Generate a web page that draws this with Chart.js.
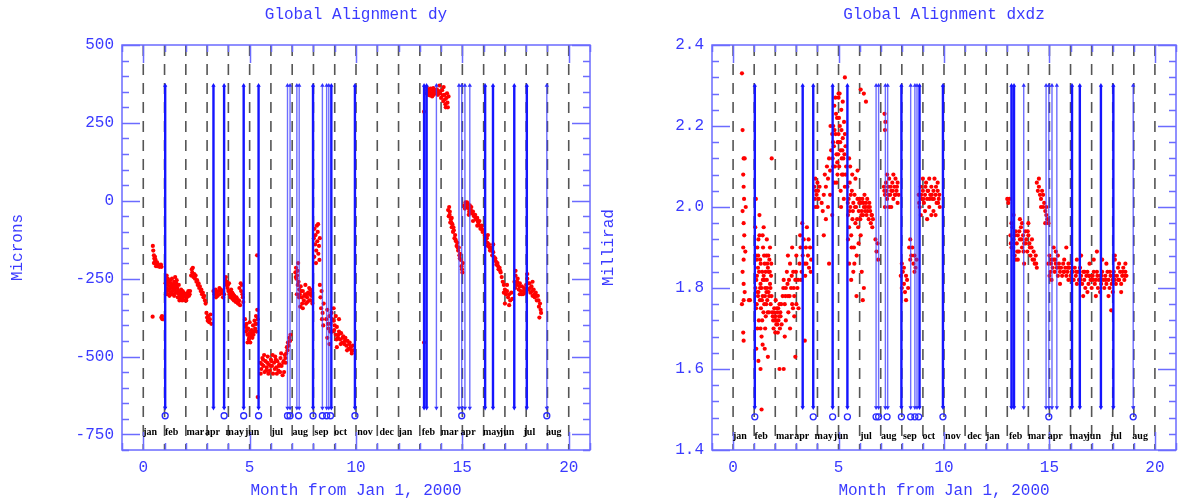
<!DOCTYPE html>
<html>
<head>
<meta charset="utf-8">
<script src="https://cdn.jsdelivr.net/npm/chart.js@4/dist/chart.umd.min.js"></script>
<style>
  html, body { margin: 0; padding: 0; background: #fff; }
  .panel { position: absolute; top: 0; height: 503px; }
  #left { left: 0; width: 600px; }
  #right { left: 595px; width: 592px; }
</style>
</head>
<body>
<div class="panel" id="left"><canvas id="dyChart"></canvas></div>
<div class="panel" id="right"><canvas id="dxdzChart"></canvas></div>
<script>
// month boundaries (dashed) and the calendar labels under them
const monthStarts = [0,1,2,3,4,5,6,7,8,9,10,11,12,13,14,15,16,17,18,19,20];
const monthNames = ["jan","feb","mar","apr","may","jun","jul","aug","sep","oct","nov","dec",
                    "jan","feb","mar","apr","may","jun","jul","aug"];
const monthLabelPos = [0.32,1.33,2.45,3.25,4.3,5.12,6.3,7.38,8.38,9.28,10.42,11.44,
                       12.32,13.4,14.4,15.27,16.4,17.1,18.15,19.3];

// blue event markers
const strongEvents = [1.03,3.3,3.8,4.72,5.42,7.98,8.84,9.95,13.2,13.32,16.07,16.44,17.44,18.03];
const faintEvents = [6.78,6.9,7.22,7.33,8.42,8.62,8.72,13.78,14.84,14.97,15.12,15.35,18.97];
const ringMonths = [1.03,3.8,4.72,5.42,6.78,6.9,7.3,7.98,8.42,8.62,8.8,9.95,14.97,18.97];

// Global Alignment dy [month, microns]
const dyPoints = [
  [0.45,-145],[0.47,-160],[0.5,-175],[0.52,-185],[0.55,-195],[0.58,-190],[0.6,-200],[0.62,-205],
  [0.65,-198],[0.68,-210],[0.7,-205],[0.73,-208],[0.76,-212],[0.8,-210],[0.83,-205],[0.86,-212],
  [0.5,-200],[0.55,-180],[0.6,-210],[0.44,-372],[0.85,-375],[0.88,-370],[0.9,-380],
  [1.05,-265],[1.08,-280],[1.1,-255],[1.12,-290],[1.15,-270],[1.18,-300],[1.2,-260],[1.22,-285],
  [1.25,-275],[1.28,-295],[1.3,-265],[1.33,-280],[1.35,-250],[1.38,-290],[1.4,-270],[1.42,-300],
  [1.45,-260],[1.48,-285],[1.5,-245],[1.52,-275],[1.55,-265],[1.58,-295],[1.6,-280],[1.62,-310],
  [1.65,-290],[1.68,-300],[1.7,-320],[1.72,-295],[1.75,-305],[1.78,-285],[1.8,-315],[1.82,-300],
  [1.85,-290],[1.88,-310],[1.9,-295],[1.93,-305],[1.96,-320],[2.0,-300],[2.05,-310],[2.1,-295],
  [2.15,-305],[2.2,-290],[1.1,-240],[1.3,-300],[1.45,-305],[1.15,-250],
  [1.07,-300],[1.13,-260],[1.17,-285],[1.23,-305],[1.27,-255],[1.33,-300],[1.37,-270],[1.43,-280],
  [1.47,-265],[1.53,-295],[1.57,-255],[1.63,-290],[1.67,-270],[1.73,-310],[1.77,-300],[1.83,-320],
  [1.87,-295],[1.95,-300],[2.02,-320],[2.08,-305],[2.12,-290],[2.18,-300],
  [2.25,-240],[2.28,-220],[2.3,-230],[2.33,-215],[2.36,-245],[2.4,-235],[2.43,-250],[2.46,-240],
  [2.5,-260],[2.53,-255],[2.56,-270],[2.6,-265],[2.63,-280],[2.66,-275],[2.7,-290],[2.73,-285],
  [2.76,-300],[2.8,-295],[2.83,-310],[2.86,-305],[2.9,-320],[2.93,-330],
  [2.97,-360],[3.0,-375],[3.03,-385],[3.06,-370],[3.1,-390],[3.13,-380],[3.16,-365],[3.2,-395],
  [3.3,-290],[3.35,-300],[3.4,-285],[3.45,-295],[3.5,-305],[3.55,-290],[3.6,-300],[3.65,-285],
  [3.7,-295],[3.75,-310],[3.8,-300],[3.42,-310],[3.58,-280],[3.72,-290],
  [3.85,-255],[3.88,-245],[3.9,-270],[3.93,-260],[3.96,-280],[4.0,-290],[4.03,-265],[4.06,-300],
  [4.1,-310],[4.13,-285],[4.16,-305],[4.2,-315],[4.23,-300],[4.26,-320],[4.3,-310],[4.35,-325],
  [4.4,-315],[4.45,-330],[4.5,-320],[4.55,-335],[4.6,-290],[4.63,-270],[4.66,-300],[4.7,-325],
  [4.52,-280],[4.58,-265],[3.87,-265],[3.98,-270],[4.08,-290],[4.18,-295],[4.28,-305],[4.38,-310],
  [4.48,-325],[4.68,-310],
  [4.78,-380],[4.8,-400],[4.83,-420],[4.86,-395],[4.9,-430],[4.93,-410],[4.96,-445],[5.0,-425],
  [5.03,-455],[5.06,-435],[5.1,-415],[5.13,-440],[5.16,-400],[5.2,-420],[5.23,-385],[5.26,-410],
  [5.3,-370],[5.33,-395],[5.36,-350],[5.38,-380],[4.9,-455],[5.0,-390],[5.35,-175],[5.38,-630],
  [4.82,-405],[4.88,-415],[4.98,-440],[5.08,-425],[5.18,-430],[5.28,-395],[5.32,-420],
  [5.5,-520],[5.55,-540],[5.6,-505],[5.65,-530],[5.7,-550],[5.75,-515],[5.8,-535],[5.85,-500],
  [5.9,-525],[5.95,-545],[6.0,-510],[6.05,-530],[6.1,-555],[6.15,-520],[6.2,-500],[6.25,-535],
  [6.3,-515],[6.35,-545],[6.4,-525],[6.45,-505],[6.5,-530],[6.55,-560],[6.6,-515],[6.65,-495],
  [6.7,-520],[5.52,-555],[5.68,-495],[5.88,-555],[6.08,-495],[6.28,-555],[6.48,-490],[6.62,-550],
  [5.58,-525],[5.63,-510],[5.78,-545],[5.83,-520],[5.98,-530],[6.03,-515],[6.18,-540],[6.23,-510],
  [6.38,-530],[6.43,-550],[6.58,-520],[6.68,-505],
  [6.72,-490],[6.75,-470],[6.78,-480],[6.8,-455],[6.83,-465],[6.86,-440],[6.9,-450],[6.92,-430],
  [7.15,-230],[7.18,-215],[7.2,-250],[7.23,-240],[7.26,-270],[7.3,-260],[7.33,-285],[7.36,-300],
  [7.4,-275],[7.45,-310],[7.5,-290],[7.55,-320],[7.6,-300],[7.65,-330],[7.7,-310],[7.75,-295],
  [7.8,-320],[7.85,-285],[7.9,-305],[7.95,-330],[7.38,-340],[7.5,-345],[7.28,-200],[7.22,-300],
  [7.62,-270],[7.8,-280],[7.17,-245],[7.25,-225],[7.32,-310],[7.42,-290],[7.47,-330],[7.57,-305],
  [7.67,-300],[7.72,-325],[7.82,-300],[7.88,-320],[7.93,-295],
  [8.02,-120],[8.05,-90],[8.08,-140],[8.1,-110],[8.13,-160],[8.16,-80],[8.18,-130],[8.2,-100],
  [8.23,-170],[8.26,-145],[8.28,-190],[8.3,-120],[8.04,-180],[8.12,-200],[8.22,-75],
  [8.3,-270],[8.33,-310],[8.36,-345],[8.4,-380],[8.43,-360],[8.46,-400],[8.38,-290],[8.48,-330],
  [8.6,-380],[8.65,-350],[8.7,-410],[8.75,-370],[8.8,-395],[8.85,-360],[8.9,-420],[8.95,-385],
  [9.0,-400],[9.05,-430],[9.1,-405],[9.15,-440],[9.2,-420],[9.25,-445],[9.3,-425],[9.35,-455],
  [9.4,-435],[9.45,-460],[9.5,-440],[9.55,-465],[9.6,-450],[9.65,-475],[9.7,-455],[9.75,-470],
  [9.8,-490],[9.85,-465],[8.65,-440],[8.75,-460],[8.95,-345],[9.05,-370],[9.2,-380],[9.1,-470],
  [8.68,-395],[8.78,-420],[8.88,-380],[8.98,-415],[9.08,-445],[9.18,-430],[9.28,-460],[9.38,-440],
  [9.48,-450],[9.58,-480],[9.68,-460],[9.78,-480],[9.88,-480],
  [13.2,-455],[13.2,286],
  [13.3,345],[13.35,355],[13.4,340],[13.45,350],[13.5,360],[13.55,345],[13.6,355],[13.65,340],
  [13.7,350],[13.75,345],[13.8,358],[13.85,340],[13.9,352],[13.95,345],[14.0,330],[14.05,355],
  [14.1,320],[14.15,340],[14.2,310],[14.25,330],[14.3,315],[14.35,335],[14.12,365],[13.92,370],
  [14.22,300],[14.28,345],[13.32,365],[13.58,335],[13.38,358],[13.48,338],[13.63,362],[13.73,355],
  [13.88,348],[14.08,338],[14.18,325],[14.32,300],
  [14.33,-30],[14.36,-50],[14.4,-45],[14.43,-70],[14.46,-60],[14.5,-85],[14.53,-75],[14.56,-100],
  [14.6,-95],[14.63,-120],[14.66,-110],[14.7,-130],[14.73,-145],[14.76,-135],[14.8,-160],
  [14.83,-150],[14.86,-175],[14.9,-170],[14.93,-190],[14.96,-210],[15.0,-230],[15.02,-200],
  [14.38,-20],[14.5,-55],[14.41,-35],[14.48,-70],[14.58,-85],[14.68,-125],[14.78,-150],
  [14.88,-185],[14.98,-220],
  [15.1,-15],[15.15,-5],[15.2,-20],[15.25,-10],[15.3,-25],[15.35,-15],[15.4,-30],[15.45,-40],
  [15.5,-35],[15.55,-50],[15.6,-45],[15.65,-60],[15.7,-55],[15.75,-70],[15.8,-65],[15.85,-90],
  [15.9,-80],[15.95,-100],[16.0,-95],[15.3,-45],[15.5,-65],[15.7,-80],[15.12,-25],[15.22,-5],
  [15.32,-35],[15.42,-20],[15.52,-45],[15.62,-55],[15.72,-65],[15.82,-80],[15.92,-90],
  [16.05,-110],[16.1,-130],[16.15,-120],[16.2,-145],[16.25,-140],[16.3,-160],[16.35,-150],
  [16.4,-175],[16.45,-165],[16.5,-190],[16.55,-185],[16.6,-205],[16.65,-200],[16.7,-220],
  [16.75,-215],[16.8,-230],[16.2,-110],[16.45,-140],[16.08,-120],[16.18,-135],[16.28,-150],
  [16.38,-160],[16.48,-180],[16.58,-195],[16.68,-210],[16.78,-225],
  [16.85,-245],[16.9,-260],[16.95,-270],[17.0,-285],[17.05,-300],[17.1,-290],[17.15,-310],
  [17.2,-300],[17.25,-320],[17.3,-295],[17.35,-315],[17.0,-330],[17.2,-335],[17.1,-270],[16.95,-295],
  [17.45,-260],[17.5,-240],[17.55,-270],[17.6,-250],[17.65,-285],[17.7,-265],[17.75,-290],
  [17.8,-275],[17.85,-300],[17.9,-280],[17.95,-295],[18.0,-270],[18.05,-250],[18.1,-285],
  [18.15,-265],[18.2,-295],[18.25,-275],[18.3,-305],[18.35,-285],[18.4,-310],[18.45,-295],
  [18.5,-320],[18.55,-305],[18.6,-340],[18.65,-330],[18.7,-360],[18.62,-375],[18.68,-350],
  [17.5,-225],[18.05,-235],[17.7,-300],[18.3,-260],[17.48,-280],[17.58,-260],[17.68,-275],
  [17.78,-300],[17.88,-290],[17.98,-285],[18.08,-265],[18.18,-280],[18.28,-290],[18.38,-300],
  [18.48,-305],[18.58,-320]
];

// Global Alignment dxdz [month, millirad]
const dxdzPoints = [
  [0.42,2.33],[0.45,2.19],[0.5,2.12],[0.55,2.12],[0.48,2.08],[0.5,2.05],[0.52,2.02],[0.45,1.99],
  [0.5,1.96],[0.53,1.93],[0.48,1.9],[0.5,1.87],[0.45,1.84],[0.5,1.81],[0.55,1.79],[0.5,1.77],
  [0.42,1.76],[0.48,1.69],[0.5,1.67],[0.6,2.0],[0.58,1.89],[0.75,1.77],[0.8,1.77],
  [1.05,1.95],[1.08,1.88],[1.1,1.82],[1.12,1.76],[1.15,1.9],[1.18,1.85],[1.2,1.79],[1.22,1.72],
  [1.25,1.93],[1.28,1.87],[1.3,1.81],[1.32,1.75],[1.35,1.68],[1.38,1.84],[1.4,1.78],[1.42,1.9],
  [1.45,1.83],[1.48,1.76],[1.5,1.86],[1.52,1.8],[1.55,1.73],[1.58,1.88],[1.6,1.82],[1.62,1.77],
  [1.65,1.85],[1.68,1.79],[1.7,1.74],[1.72,1.87],[1.75,1.81],[1.78,1.76],[1.8,1.83],[1.82,1.78],
  [1.1,1.65],[1.2,1.62],[1.3,1.6],[1.15,1.7],[1.4,1.66],[1.25,1.98],[1.08,2.02],[1.45,1.95],
  [1.6,1.92],[1.35,1.5],[1.12,1.87],[1.28,1.8],[1.48,1.82],[1.58,1.79],[1.68,1.84],[1.18,1.78],
  [1.38,1.72],[1.52,1.7],[1.62,1.86],[1.75,1.9],[1.83,2.12],[1.65,1.63],
  [1.06,1.8],[1.09,1.75],[1.13,1.83],[1.16,1.79],[1.19,1.88],[1.23,1.84],[1.27,1.77],[1.31,1.86],
  [1.34,1.8],[1.37,1.77],[1.41,1.82],[1.44,1.74],[1.47,1.88],[1.51,1.78],[1.54,1.84],[1.57,1.76],
  [1.61,1.8],[1.64,1.74],[1.67,1.88],[1.71,1.78],[1.74,1.84],[1.77,1.8],[1.81,1.86],[1.2,1.92],
  [1.4,1.93],[1.3,1.7],[1.5,1.65],
  [1.85,1.74],[1.9,1.72],[1.95,1.75],[2.0,1.73],[2.05,1.71],[2.1,1.74],[2.15,1.72],[2.2,1.76],
  [2.25,1.73],[2.3,1.71],[1.92,1.7],[2.02,1.77],[2.12,1.69],[2.22,1.7],[2.08,1.75],[2.18,1.73],
  [2.28,1.76],[1.98,1.72],[1.88,1.73],[1.94,1.74],[2.04,1.72],[2.14,1.75],[2.24,1.74],[2.0,1.69],
  [2.1,1.71],
  [2.35,1.78],[2.4,1.82],[2.45,1.76],[2.5,1.8],[2.55,1.84],[2.6,1.78],[2.65,1.82],[2.7,1.86],
  [2.75,1.8],[2.8,1.76],[2.85,1.84],[2.9,1.78],[2.95,1.82],[3.0,1.88],[3.05,1.8],[3.1,1.75],
  [2.5,1.72],[2.7,1.7],[2.9,1.73],[2.6,1.88],[2.8,1.9],[3.0,1.76],[2.45,1.68],[2.95,1.63],
  [2.4,1.6],[2.2,1.6],[2.38,1.8],[2.48,1.78],[2.58,1.81],[2.68,1.78],[2.78,1.83],[2.88,1.8],
  [2.98,1.84],[3.08,1.82],[2.62,1.74],[2.84,1.75],
  [3.15,1.86],[3.2,1.9],[3.25,1.84],[3.3,1.88],[3.35,1.92],[3.4,1.86],[3.45,1.9],[3.5,1.95],
  [3.55,1.88],[3.6,1.85],[3.65,1.9],[3.7,1.87],[3.18,1.93],[3.28,1.96],[3.42,1.83],[3.58,1.92],
  [3.22,1.82],[3.48,1.86],[3.68,1.84],[3.4,1.67],
  [3.85,2.05],[3.88,2.02],[3.9,2.07],[3.93,2.04],[3.96,2.03],[4.0,2.06],[4.03,2.04],[4.06,2.02],
  [4.1,2.05],[3.9,2.0],[4.0,2.0],
  [4.2,2.01],[4.25,1.99],[4.3,2.03],[4.35,2.08],[4.4,2.05],[4.45,2.1],[4.5,2.07],[4.55,2.12],
  [4.6,2.09],[4.65,2.14],[4.4,1.97],[4.5,2.0],[4.6,2.03],[4.7,2.18],[4.62,2.2],[4.3,1.93],
  [4.55,1.86],[4.7,1.98],
  [4.72,2.12],[4.75,2.2],[4.78,2.15],[4.8,2.25],[4.83,2.1],[4.86,2.18],[4.9,2.13],[4.93,2.22],
  [4.96,2.16],[5.0,2.27],[5.03,2.1],[5.06,2.2],[5.1,2.14],[5.13,2.24],[5.16,2.08],[5.2,2.17],
  [5.23,2.12],[5.26,2.21],[5.3,2.05],[5.33,2.15],[5.36,2.1],[4.8,2.06],[4.95,2.08],[5.1,2.04],
  [5.25,2.02],[4.85,2.27],[5.0,2.18],[5.15,2.12],[5.05,2.28],[4.9,2.06],[5.2,2.26],[4.75,2.1],
  [5.3,2.18],[5.12,2.0],[4.98,2.13],[5.3,2.32],[5.0,2.28],[4.74,2.16],[4.81,2.19],[4.88,2.23],
  [4.94,2.11],[5.02,2.22],[5.08,2.16],[5.14,2.19],[5.18,2.14],[5.22,2.08],[5.28,2.13],[5.34,2.08],
  [5.42,2.05],[5.45,1.98],[5.48,2.02],[5.5,1.95],[5.53,2.06],[5.56,2.0],[5.6,1.93],[5.63,2.04],
  [5.66,1.97],[5.7,2.01],[5.73,1.9],[5.76,2.03],[5.8,1.96],[5.83,2.0],[5.86,1.88],[5.9,2.02],
  [5.93,1.95],[5.96,1.99],[6.0,2.02],[6.03,1.97],[6.06,2.01],[6.1,1.99],[6.13,2.02],[6.16,1.98],
  [6.2,2.0],[6.23,2.03],[6.26,1.99],[6.3,2.01],[6.33,1.98],[6.36,2.02],[6.4,2.0],[6.43,1.97],
  [6.46,2.01],[6.5,1.99],[6.53,1.96],[6.56,1.98],[6.6,1.95],[6.63,1.97],[5.5,1.86],[5.6,1.82],
  [5.7,1.84],[5.55,2.1],[5.65,2.08],[5.8,2.07],[5.95,1.91],[6.05,1.93],[5.5,2.12],[5.62,1.9],
  [5.45,1.92],[5.75,1.86],[5.9,2.09],[6.2,2.28],[6.3,2.26],[6.05,2.29],[6.1,1.84],[6.2,1.8],
  [6.15,1.77],[5.85,1.78],[5.44,2.01],[5.52,1.99],[5.58,2.03],[5.68,1.99],[5.78,2.0],[5.88,1.97],
  [5.98,2.01],[6.08,1.98],[6.18,2.01],[6.28,2.0],[6.38,1.99],[6.48,2.0],[6.58,1.98],
  [6.75,1.92],[6.8,1.89],[6.85,1.91],[6.88,1.87],[7.18,2.23],[7.2,2.19],[7.22,2.21],
  [7.15,2.05],[7.2,2.03],[7.25,2.06],[7.3,2.02],[7.35,2.05],[7.4,2.07],[7.45,2.03],[7.5,2.04],
  [7.55,2.06],[7.6,2.02],[7.65,2.05],[7.7,2.03],[7.75,2.04],[7.8,2.01],[7.85,2.03],[7.3,2.08],
  [7.5,2.0],[7.7,2.07],[7.4,2.0],[7.6,2.08],[7.2,2.0],[7.8,2.06],[7.17,2.04],[7.27,2.04],
  [7.37,2.03],[7.47,2.05],[7.57,2.04],[7.67,2.03],[7.77,2.05],
  [7.95,1.83],[8.0,1.8],[8.05,1.84],[8.1,1.81],[8.15,1.79],[8.2,1.83],[8.25,1.82],[8.3,1.8],
  [8.1,1.85],[8.2,1.77],[8.0,1.86],
  [8.35,1.9],[8.4,1.92],[8.45,1.88],[8.5,1.9],[8.55,1.86],[8.6,1.88],[8.65,1.85],[8.7,1.87],
  [8.4,1.87],[8.6,1.84],
  [8.8,2.03],[8.85,2.0],[8.9,2.05],[8.95,2.02],[9.0,2.04],[9.05,2.01],[9.1,2.03],[9.15,2.06],
  [9.2,2.02],[9.25,2.04],[9.3,2.0],[9.35,2.03],[9.4,2.05],[9.45,2.02],[9.5,2.04],[9.55,2.07],
  [9.6,2.03],[9.65,2.01],[9.7,2.04],[9.75,2.02],[9.8,2.0],[8.9,1.98],[9.1,1.99],[9.3,2.07],
  [9.5,1.99],[9.7,2.06],[9.2,1.97],[9.6,1.98],[9.0,2.07],[9.4,1.98],[8.82,2.01],[8.92,2.03],
  [9.02,2.02],[9.12,2.05],[9.22,2.04],[9.32,2.02],[9.42,2.03],[9.52,2.02],[9.62,2.05],[9.72,2.01],
  [9.78,2.03],
  [13.0,2.02],[13.05,2.01],[13.1,2.02],
  [13.15,1.93],[13.2,1.9],[13.25,1.95],[13.3,1.92],[13.35,1.88],[13.4,1.94],[13.45,1.91],
  [13.5,1.93],[13.55,1.89],[13.6,1.92],[13.65,1.95],[13.7,1.9],[13.75,1.93],[13.8,1.91],
  [13.85,1.94],[13.9,1.92],[13.95,1.89],[14.0,1.93],[14.05,1.91],[14.1,1.88],[14.15,1.9],
  [14.2,1.87],[14.25,1.89],[14.3,1.86],[14.35,1.88],[14.4,1.85],[13.2,1.96],[13.4,1.87],
  [13.6,1.97],[13.8,1.86],[14.0,1.96],[13.3,1.98],[13.5,1.87],[13.7,1.96],
  [13.17,1.91],[13.27,1.9],[13.37,1.93],[13.47,1.89],[13.57,1.94],[13.67,1.92],[13.77,1.89],
  [13.87,1.91],[13.97,1.94],[14.07,1.9],[14.17,1.92],[14.27,1.87],[14.37,1.86],
  [14.4,2.06],[14.45,2.04],[14.5,2.05],[14.55,2.03],[14.6,2.02],[14.65,2.04],[14.7,2.0],
  [14.75,2.01],[14.8,1.99],[14.85,1.98],[14.9,1.97],[14.95,1.96],[14.5,2.07],[14.6,2.0],
  [14.7,2.03],[14.8,1.96],[14.85,2.0],
  [14.95,1.86],[15.0,1.88],[15.05,1.84],[15.1,1.87],[15.15,1.85],[15.2,1.87],[15.25,1.84],
  [15.3,1.86],[15.35,1.85],[15.4,1.83],[15.45,1.86],[15.5,1.84],[15.55,1.85],[15.6,1.83],
  [15.65,1.86],[15.7,1.84],[15.75,1.85],[15.8,1.83],[15.85,1.84],[15.9,1.82],[15.95,1.85],
  [16.0,1.83],[16.05,1.84],[15.1,1.82],[15.3,1.89],[15.5,1.81],[15.7,1.87],[15.9,1.86],
  [15.2,1.9],[15.0,1.83],[15.4,1.88],[15.07,1.86],[15.27,1.87],[15.47,1.85],[15.67,1.84],
  [15.87,1.85],
  [16.1,1.84],[16.15,1.82],[16.2,1.85],[16.25,1.83],[16.3,1.81],[16.35,1.84],[16.4,1.82],
  [16.45,1.85],[16.5,1.83],[16.55,1.81],[16.6,1.84],[16.65,1.82],[16.7,1.8],[16.75,1.83],
  [16.8,1.84],[16.85,1.81],[16.9,1.83],[16.95,1.82],[17.0,1.8],[17.05,1.83],[17.1,1.84],
  [17.15,1.81],[17.2,1.82],[17.25,1.84],[17.3,1.8],[17.35,1.82],[17.4,1.83],[17.45,1.81],
  [17.5,1.84],[17.55,1.82],[17.6,1.8],[17.65,1.83],[17.7,1.81],[17.75,1.84],[17.8,1.82],
  [17.85,1.8],[17.9,1.83],[17.95,1.81],[18.0,1.82],[18.05,1.84],[18.1,1.82],[18.15,1.81],
  [18.2,1.83],[18.25,1.85],[18.3,1.82],[18.35,1.84],[18.4,1.81],[18.45,1.83],[18.5,1.85],
  [18.55,1.82],[18.6,1.84],[18.65,1.83],[16.3,1.87],[16.6,1.78],[16.9,1.86],[17.2,1.78],
  [17.5,1.87],[17.8,1.78],[18.1,1.87],[18.4,1.79],[18.6,1.86],[16.8,1.79],[17.1,1.87],
  [17.4,1.79],[17.7,1.86],[18.0,1.79],[18.3,1.86],[17.93,1.745],[17.25,1.89],[18.1,1.88],
  [15.8,1.9],[16.5,1.88],[16.07,1.82],[16.27,1.84],[16.47,1.82],[16.67,1.84],[16.87,1.83],
  [17.07,1.82],[17.27,1.83],[17.47,1.83],[17.67,1.82],[17.87,1.84],[18.07,1.83],[18.27,1.82],
  [18.47,1.84],[18.57,1.83]
];

const TEXT_BLUE = "#3a3aff";
const FRAME_BLUE = "#6b6bff";
Chart.defaults.font.family = "'Liberation Mono', 'DejaVu Sans Mono', monospace";
Chart.defaults.font.size = 16;
Chart.defaults.color = TEXT_BLUE;

function verticals(xs, top, bottom) {
  const out = [];
  xs.forEach(m => out.push({x: m, y: top}, {x: m, y: bottom}, {x: m, y: null}));
  return out;
}

const framePlugin = {
  id: "frame",
  afterDatasetsDraw(chart, args, o) {
    const {ctx, chartArea: a, scales: {x, y}} = chart;
    ctx.save();
    ctx.strokeStyle = FRAME_BLUE;
    ctx.lineWidth = 1.5;
    ctx.strokeRect(a.left, a.top, a.right - a.left, a.bottom - a.top);
    ctx.beginPath();
    y.ticks.forEach(t => {
      const py = Math.round(y.getPixelForValue(t.value)) + 0.5;
      const len = t.label ? 18 : 7;
      ctx.moveTo(a.left, py); ctx.lineTo(a.left + len, py);
      ctx.moveTo(a.right, py); ctx.lineTo(a.right - len, py);
    });
    x.ticks.forEach(t => {
      const px = Math.round(x.getPixelForValue(t.value)) + 0.5;
      const len = t.label ? 18 : 7;
      ctx.moveTo(px, a.bottom); ctx.lineTo(px, a.bottom - len);
      ctx.moveTo(px, a.top); ctx.lineTo(px, a.top + len);
    });
    ctx.stroke();
    // calendar month names
    ctx.fillStyle = "#000";
    ctx.font = "bold 10px 'Liberation Serif', serif";
    ctx.textAlign = "center";
    ctx.textBaseline = "middle";
    const ly = y.getPixelForValue(o.labelY);
    monthNames.forEach((n, i) => ctx.fillText(n, x.getPixelForValue(monthLabelPos[i]), ly));
    // title
    ctx.fillStyle = TEXT_BLUE;
    ctx.font = "16px 'Liberation Mono', monospace";
    ctx.fillText(o.title, (a.left + a.right) / 2, 15);
    ctx.restore();
  }
};

function makeChart(id, cfg) {
  const top = cfg.eventTop, bottom = cfg.eventBottom;
  const markRadius = c => (c.raw && c.raw.y !== null) ? 2.5 : 0;
  const markRot = c => (c.raw && c.raw.y === bottom) ? 180 : 0;
  return new Chart(document.getElementById(id), {
    type: "scatter",
    data: {
      datasets: [
        {
          data: verticals(strongEvents, top, bottom),
          showLine: true, borderColor: "#1515ff", borderWidth: 2.4,
          pointStyle: "triangle", pointRadius: markRadius, pointRotation: markRot,
          pointBackgroundColor: "#1515ff", pointBorderWidth: 0, order: 0
        },
        {
          data: verticals(faintEvents, top, bottom),
          showLine: true, borderColor: "rgba(60,60,255,0.75)", borderWidth: 1.4,
          pointStyle: "triangle", pointRadius: markRadius, pointRotation: markRot,
          pointBackgroundColor: "#3030ff", pointBorderWidth: 0, order: 0
        },
        {
          data: ringMonths.map(m => ({x: m, y: cfg.ringY})),
          pointStyle: "circle", pointRadius: 3, backgroundColor: "rgba(0,0,0,0)",
          borderColor: "#2a2aff", pointBorderWidth: 1.3, order: 0
        },
        {
          data: cfg.points.map(p => ({x: p[0], y: p[1]})),
          pointRadius: 2.1, pointBorderWidth: 0, backgroundColor: "#ff0000", order: 1
        },
        {
          data: verticals(monthStarts, cfg.yMax, cfg.yMin),
          showLine: true, borderColor: "#555555", borderWidth: 1.6, borderDash: [11, 8],
          pointRadius: 0, order: 2
        }
      ]
    },
    options: {
      responsive: true,
      maintainAspectRatio: false,
      animation: false,
      events: [],
      layout: {padding: {top: 45, right: cfg.padRight, bottom: 0, left: 0}},
      plugins: {
        legend: {display: false},
        tooltip: {enabled: false},
        frame: {title: cfg.title, labelY: cfg.labelY}
      },
      scales: {
        x: {
          type: "linear", min: -1, max: 21,
          grid: {display: false, drawTicks: false}, border: {display: false},
          ticks: {stepSize: 1, autoSkip: false, maxRotation: 0, padding: 8,
                  callback: v => (v % 5 === 0 && v >= 0 && v <= 20) ? String(v) : ""},
          title: {display: true, text: "Month from Jan 1, 2000", padding: {top: 0, bottom: 3}},
          afterFit: s => { s.height = 53; }
        },
        y: {
          type: "linear", min: cfg.yMin, max: cfg.yMax,
          grid: {display: false, drawTicks: false}, border: {display: false},
          ticks: {stepSize: cfg.step, autoSkip: false, padding: 8, callback: cfg.tickLabel},
          title: {display: true, text: cfg.yTitle, padding: {top: cfg.yTitlePad, bottom: 0}},
          afterFit: s => { s.width = cfg.axisWidth; }
        }
      }
    },
    plugins: [framePlugin]
  });
}

makeChart("dyChart", {
  title: "Global Alignment dy", yTitle: "Microns", points: dyPoints,
  yMin: -800, yMax: 500, step: 50,
  tickLabel: v => (v % 250 === 0) ? String(v) : "",
  eventTop: 370, eventBottom: -665, ringY: -690, labelY: -742,
  axisWidth: 122, padRight: 10, yTitlePad: 8
});

makeChart("dxdzChart", {
  title: "Global Alignment dxdz", yTitle: "Millirad", points: dxdzPoints,
  yMin: 1.4, yMax: 2.4, step: 0.04,
  tickLabel: v => (Math.abs(v * 5 - Math.round(v * 5)) < 1e-6) ? v.toFixed(1) : "",
  eventTop: 2.3, eventBottom: 1.505, ringY: 1.482, labelY: 1.433,
  axisWidth: 117, padRight: 11, yTitlePad: 4
});
</script>
</body>
</html>
